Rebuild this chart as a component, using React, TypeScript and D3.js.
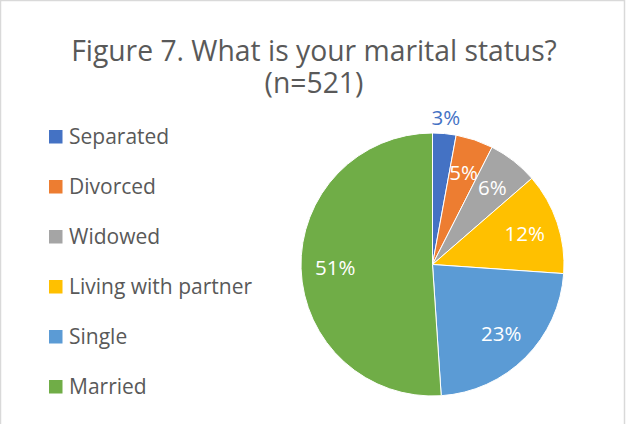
import React from 'react';
import * as d3 from 'd3';

// survey answers (n=521)
const categories = ['Separated', 'Divorced', 'Widowed', 'Living with partner', 'Single', 'Married'];
const counts = [15, 24, 32, 65, 119, 266];
const colors = ['#4472C4', '#ED7D31', '#A5A5A5', '#FFC000', '#5B9BD5', '#70AD47'];
const titleLines = ['Figure 7. What is your marital status?', '(n=521)'];

const W = 626;
const H = 424;
const FONT = '"Open Sans", Lato, sans-serif';

export default function App() {
  const cx = 432.5;
  const cy = 264.5;
  const r = 131.5;
  const total = d3.sum(counts);

  const pie = d3.pie<number>().sort(null).value((d) => d);
  const arcs = pie(counts);
  const arc = d3.arc<d3.PieArcDatum<number>>().innerRadius(0).outerRadius(r);
  const inLabel = d3.arc<d3.PieArcDatum<number>>().innerRadius(r * 0.74).outerRadius(r * 0.74);
  const outLabel = d3.arc<d3.PieArcDatum<number>>().innerRadius(r * 1.12).outerRadius(r * 1.12);

  const legendY = d3.scalePoint<string>().domain(categories).range([136.5, 386.5]);

  return (
    <svg width={W} height={H} style={{ position: 'absolute', left: 0, top: 0, background: '#fff' }}>
      <rect x={0.5} y={0.5} width={W - 2} height={H + 10} fill="#fff" stroke="#D9D9D9" strokeWidth={1.5} />
      <text y={61} textAnchor="middle" fontFamily={FONT} fontSize={28.3} fill="#595959">
        {titleLines.map((t, i) => (
          <tspan key={t} x={314} dy={i === 0 ? 0 : 32}>
            {t}
          </tspan>
        ))}
      </text>

      <g transform={`translate(${cx},${cy})`}>
        {arcs.map((a, i) => (
          <path key={categories[i]} d={arc(a) || ''} fill={colors[i]} stroke="#fff" strokeWidth={1} />
        ))}
        {arcs.map((a, i) => {
          const pct = a.value / total;
          const outside = pct < 0.04;
          const [lx, ly] = outside ? outLabel.centroid(a) : inLabel.centroid(a);
          return (
            <text
              key={'l' + i}
              x={lx}
              y={ly}
              dy="0.36em"
              textAnchor="middle"
              fontFamily={FONT}
              fontSize={20.5}
              fill={outside ? colors[i] : '#fff'}
            >
              {d3.format('.0%')(pct)}
            </text>
          );
        })}
      </g>

      {categories.map((c, i) => (
        <g key={c} transform={`translate(49,${legendY(c)})`}>
          <rect x={0} y={-6.5} width={13.5} height={13.5} fill={colors[i]} />
          <text x={20} y={0} dy="0.36em" fontFamily={FONT} fontSize={21} fill="#595959">
            {c}
          </text>
        </g>
      ))}
    </svg>
  );
}
